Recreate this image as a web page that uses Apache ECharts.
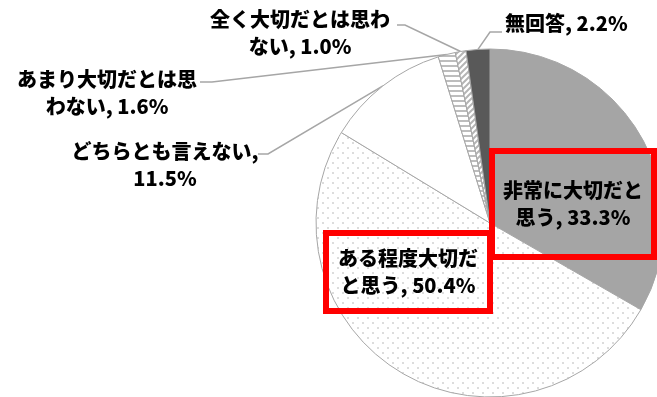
<!DOCTYPE html>
<html><head><meta charset="utf-8">
<script src="https://cdn.jsdelivr.net/npm/echarts@6/dist/echarts.min.js"></script>
<style>html,body{margin:0;padding:0;background:#fff}#c{width:657px;height:397px}</style>
</head><body><div id="c"></div>
<script>
// ---- data ----
const categories = ['非常に大切だと思う', 'ある程度大切だと思う', 'どちらとも言えない', 'あまり大切だとは思わない', '全く大切だとは思わない', '無回答'];
const values = [33.3, 50.4, 11.5, 1.6, 1.0, 2.2];

// ---- layout / style (not data) ----
const breakAt = [7, 7, 10, 9, 9, 0];
const CX = 490, CY = 223, R = 174;
const labelPos = [
  {x: 573, y: 204, align: 'center'},
  {x: 408, y: 272, align: 'center'},
  {x: 165, y: 165, align: 'center', anchor: [258, 154], knee: [268, 154]},
  {x: 107, y: 93, align: 'center', anchor: [200, 82], knee: [212, 82]},
  {x: 300, y: 33, align: 'center', anchor: [397, 25], knee: [405, 25]},
  {x: 505, y: 23, align: 'left', anchor: [502, 32], knee: [490, 32]}
];

function makeCanvas(w, h, draw) {
  const c = document.createElement('canvas'); c.width = w; c.height = h;
  const g = c.getContext('2d'); g.fillStyle = '#fff'; g.fillRect(0, 0, w, h); draw(g); return c;
}
const dots = makeCanvas(10, 10, g => { g.fillStyle = '#dcdcdc'; g.fillRect(2, 2, 2, 2); g.fillRect(7, 7, 2, 2); });
const hstripe = makeCanvas(6, 5, g => { g.fillStyle = '#bdbdbd'; g.fillRect(0, 0, 6, 2); });
const dstripe = makeCanvas(6, 6, g => {
  g.strokeStyle = '#b5b5b5'; g.lineWidth = 2;
  g.beginPath(); g.moveTo(-1, 7); g.lineTo(7, -1); g.moveTo(-1, 1); g.lineTo(1, -1); g.moveTo(5, 7); g.lineTo(7, 5); g.stroke();
});
const fills = ['#a5a5a5', {image: dots, repeat: 'repeat'}, '#ffffff', {image: hstripe, repeat: 'repeat'}, {image: dstripe, repeat: 'repeat'}, '#595959'];

const total = values.reduce((a, b) => a + b, 0);
function edgePoint(i) {
  let cum = 0; for (let k = 0; k < i; k++) cum += values[k];
  const mid = (cum + values[i] / 2) / total * 2 * Math.PI;
  return [CX + R * Math.sin(mid), CY - R * Math.cos(mid)];
}

const boxLabel = (padV, padH) => ({
  position: 'inside', borderColor: '#ff0000', borderWidth: 6, padding: [padV, padH],
  width: 146, overflow: 'none', align: 'center'
});

const data = categories.map((name, i) => {
  const d = {name: name, value: values[i], itemStyle: {color: fills[i]}};
  if (i === 0) { d.label = boxLabel(26, 8); d.labelLine = {show: false}; }
  if (i === 1) { d.label = boxLabel(12, 9); d.labelLine = {show: false}; }
  return d;
});

const chart = echarts.init(document.getElementById('c'), null, {renderer: 'canvas'});
chart.setOption({
  animation: false,
  series: [{
    type: 'pie',
    center: [CX, CY],
    radius: R,
    startAngle: 90,
    clockwise: true,
    avoidLabelOverlap: false,
    silent: true,
    itemStyle: {borderColor: '#a6a6a6', borderWidth: 1},
    label: {
      show: true,
      position: 'outside',
      color: '#000',
      fontFamily: '"Noto Sans CJK JP"',
      fontWeight: 900,
      fontSize: 20,
      lineHeight: 27,
      formatter: p => {
        const full = p.name + ', ' + values[p.dataIndex].toFixed(1) + '%';
        const b = breakAt[p.dataIndex];
        return b ? full.slice(0, b) + '\n' + full.slice(b).trim() : full;
      }
    },
    labelLine: {show: true, length: 5, length2: 5, lineStyle: {color: '#a6a6a6', width: 1.5}},
    labelLayout: params => {
      const i = params.dataIndex, p = labelPos[i];
      const res = {x: p.x, y: p.y, align: p.align, verticalAlign: 'middle'};
      if (p.anchor) res.labelLinePoints = [edgePoint(i), p.knee, p.anchor];
      return res;
    },
    data: data
  }]
});
</script></body></html>
